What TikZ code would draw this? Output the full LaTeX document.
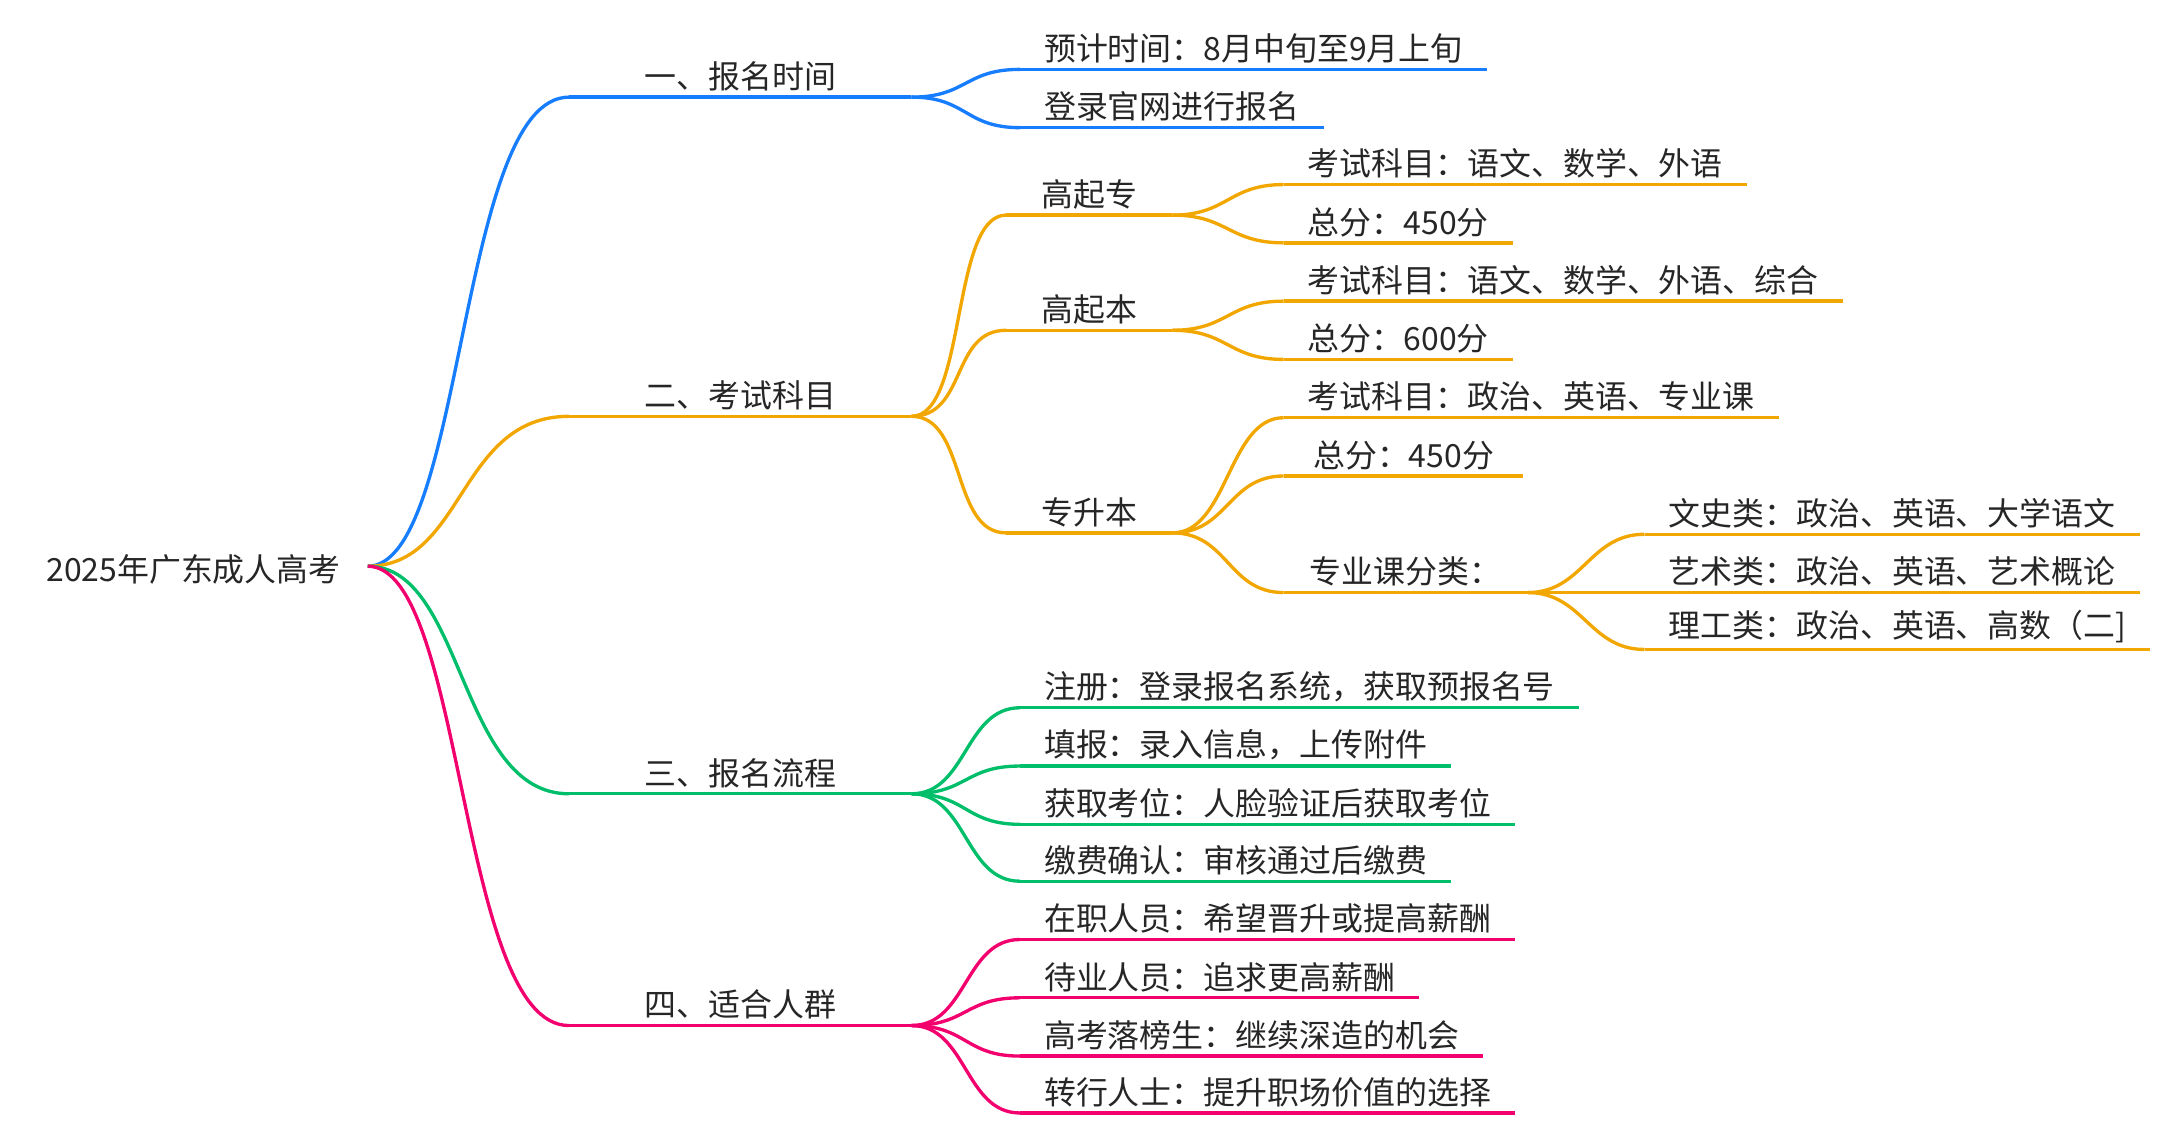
\documentclass[tikz,border=0pt]{standalone}
\usepackage{fontspec}
\setmainfont{Noto Sans CJK SC}
\definecolor{cblue}{RGB}{22,125,255}
\definecolor{corange}{RGB}{242,166,0}
\definecolor{cgreen}{RGB}{0,190,105}
\definecolor{cpink}{RGB}{242,0,110}
\tikzset{every node/.style={inner ysep=2pt,font=\fontsize{11.5}{14}\selectfont,text=black!85}}
\begin{document}
\begin{tikzpicture}[x=0.5pt,y=-0.5pt]
\useasboundingbox (0,0) rectangle (1568,817);

\tikzstyle{top}=[anchor=south west,inner xsep=27pt]
\tikzstyle{mid}=[anchor=south west,inner xsep=12.5pt]
\tikzstyle{leaf}=[anchor=south west,inner xsep=8.5pt]
\tikzstyle{ln}=[line width=1.2pt]

\node[anchor=west,inner xsep=0pt] (root) at (33,410) {2025年广东成人高考};
\coordinate (r) at (265,408);

% level 1
\node[top] (A) at (410,70) {一、报名时间};
\node[top] (B) at (410,300) {二、考试科目};
\node[top] (C) at (410,572) {三、报名流程};
\node[top] (D) at (410,739) {四、适合人群};

% level 2
\node[mid] (B1) at (725,155) {高起专};
\node[mid] (B2) at (725,238) {高起本};
\node[mid] (B3) at (725,384) {专升本};
\node[anchor=south west,inner xsep=7.5pt,minimum width=87.5pt] (B33) at (925,427) {专业课分类：};

% leaves
\node[leaf] (A1) at (735,50) {预计时间：8月中旬至9月上旬};
\node[leaf] (A2) at (735,92) {登录官网进行报名};
\node[leaf] (B11) at (925,133) {考试科目：语文、数学、外语};
\node[leaf] (B12) at (925,175) {总分：450分};
\node[leaf] (B21) at (925,217) {考试科目：语文、数学、外语、综合};
\node[leaf] (B22) at (925,259) {总分：600分};
\node[leaf] (B31) at (925,301) {考试科目：政治、英语、专业课};
\node[leaf,minimum width=86pt] (B32) at (925,343) {总分：450分};
\node[leaf] (B331) at (1185,385) {文史类：政治、英语、大学语文};
\node[leaf] (B332) at (1185,427) {艺术类：政治、英语、艺术概论};
\node[leaf] (B333) at (1185,468) {理工类：政治、英语、高数（二]};
\node[leaf] (C1) at (735,510) {注册：登录报名系统，获取预报名号};
\node[leaf] (C2) at (735,552) {填报：录入信息，上传附件};
\node[leaf] (C3) at (735,594) {获取考位：人脸验证后获取考位};
\node[leaf] (C4) at (735,635) {缴费确认：审核通过后缴费};
\node[leaf] (D1) at (735,677) {在职人员：希望晋升或提高薪酬};
\node[leaf] (D2) at (735,719) {待业人员：追求更高薪酬};
\node[leaf] (D3) at (735,761) {高考落榜生：继续深造的机会};
\node[leaf] (D4) at (735,802) {转行人士：提升职场价值的选择};

% underlines
\foreach \n/\c in {A/cblue,A1/cblue,A2/cblue,B/corange,B1/corange,B2/corange,B3/corange,B33/corange,
  B11/corange,B12/corange,B21/corange,B22/corange,B31/corange,B32/corange,B331/corange,B332/corange,B333/corange,
  C/cgreen,C1/cgreen,C2/cgreen,C3/cgreen,C4/cgreen,D/cpink,D1/cpink,D2/cpink,D3/cpink,D4/cpink}
  \draw[ln,\c] (\n.south west) -- (\n.south east);

% connectors
\foreach \y/\c in {A/cblue,B/corange,C/cgreen,D/cpink}
  \draw[ln,\c] (r) .. controls +(70,0) and +(-80,0) .. (\y.south west);
\foreach \x/\y/\c in {A/A1/cblue,A/A2/cblue,B/B1/corange,B/B2/corange,B/B3/corange,
  B1/B11/corange,B1/B12/corange,B2/B21/corange,B2/B22/corange,B3/B31/corange,B3/B32/corange,B3/B33/corange,
  B33/B331/corange,B33/B332/corange,B33/B333/corange,
  C/C1/cgreen,C/C2/cgreen,C/C3/cgreen,C/C4/cgreen,D/D1/cpink,D/D2/cpink,D/D3/cpink,D/D4/cpink}
  \draw[ln,\c] (\x.south east) .. controls +(40,0) and +(-40,0) .. (\y.south west);

\end{tikzpicture}
\end{document}
